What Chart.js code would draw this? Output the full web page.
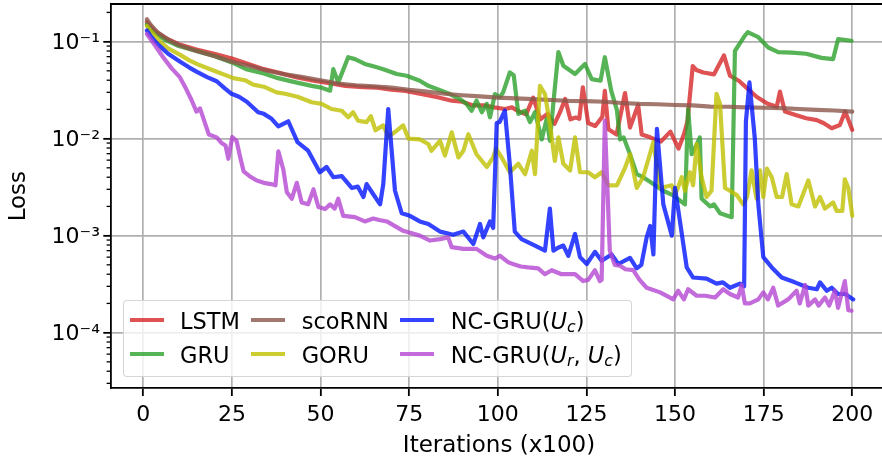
<!DOCTYPE html>
<html><head><meta charset="utf-8">
<script src="https://cdn.jsdelivr.net/npm/chart.js@4.4.1/dist/chart.umd.min.js"></script>
<style>
html,body{margin:0;padding:0;background:#fff;overflow:hidden}
#wrap{position:relative;width:882px;height:462px;overflow:hidden;background:#fff}
#c{position:absolute;left:0;top:0}
.legbox{position:absolute;left:123px;top:300px;width:509px;height:77px;box-sizing:border-box;border:1.3px solid rgba(204,204,204,0.8);border-radius:4px;background:rgba(255,255,255,0.8)}
.h{position:absolute;height:4.2px;width:34px}
.t{position:absolute;font-family:'DejaVu Sans';font-size:22.5px;line-height:22.5px;white-space:nowrap;color:#000}
.m{font-style:italic}
.s{font-style:italic;font-size:0.7em;line-height:0;vertical-align:-0.22em}
</style></head><body>
<div id="wrap"><canvas id="c" width="887" height="462"></canvas></div>
<script>
// ---------------- data (x in hundreds of iterations, loss) ----------------
const xTicks = [0, 25, 50, 75, 100, 125, 150, 175, 200];
const yTicks = [1e-4, 1e-3, 1e-2, 1e-1];
const yTickLabels = ['10\u207B\u2074', '10\u207B\u00B3', '10\u207B\u00B2', '10\u207B\u00B9'];
const seriesNames = ['LSTM', 'GRU', 'scoRNN', 'GORU', 'NC-GRU(U_c)', 'NC-GRU(U_r, U_c)'];

const lstm = [[1,0.16],[3,0.13],[6,0.11],[10,0.094],[15,0.083],[20,0.075],[25,0.067],[29,0.06],[34,0.052],[38,0.048],[43,0.043],[48,0.0395],[53,0.037],[57,0.035],[62,0.034],[66,0.0335],[70,0.032],[74,0.031],[78,0.029],[83,0.0267],[87,0.0246],[90,0.024],[93,0.022],[96,0.022],[99,0.021],[102,0.0202],[104,0.021],[106,0.019],[108,0.0178],[110,0.0265],[112,0.0158],[114,0.018],[116,0.0142],[117.5,0.0185],[119,0.0256],[120.5,0.0158],[122,0.0165],[123,0.016],[124,0.0338],[125.5,0.0145],[127.5,0.0135],[129.5,0.0168],[130.2,0.031],[131.2,0.0125],[133.5,0.011],[135.9,0.0295],[137.3,0.013],[139.6,0.0222],[140.6,0.011],[143,0.0103],[146,0.0093],[148.7,0.0118],[151,0.0079],[152.5,0.011],[153.5,0.015],[155,0.056],[156,0.051],[158,0.048],[161,0.046],[163.8,0.072],[165.5,0.0445],[168,0.0395],[170,0.034],[173,0.027],[176,0.023],[178.7,0.0213],[179.6,0.0305],[181,0.019],[184,0.0175],[187,0.0162],[190,0.0155],[192,0.0144],[194.2,0.0128],[196.5,0.0138],[198,0.019],[200,0.0123]];

const gru = [[1,0.15],[3,0.125],[6,0.105],[10,0.09],[15,0.08],[20,0.071],[25,0.061],[29,0.052],[34,0.047],[38,0.042],[43,0.038],[47.5,0.035],[50.3,0.0335],[52.7,0.0312],[53.6,0.052],[55,0.038],[57.8,0.069],[59.7,0.066],[62.5,0.0588],[65.4,0.055],[67.7,0.052],[71.5,0.0463],[74.3,0.0445],[78,0.0395],[80.4,0.035],[82.8,0.0325],[86.5,0.0288],[89.3,0.0256],[91.2,0.0228],[92.6,0.0194],[94,0.0246],[95.5,0.0187],[96.9,0.0228],[97.8,0.0166],[99.2,0.0288],[100.6,0.0267],[101.5,0.03],[103.4,0.048],[104.5,0.045],[105.8,0.018],[107.7,0.0194],[109.1,0.0148],[110.5,0.0187],[112.4,0.0098],[113.8,0.016],[114.7,0.0095],[115.7,0.0237],[117.1,0.078],[118.5,0.0564],[121.8,0.0463],[124.6,0.0588],[126.5,0.041],[129,0.0395],[130.2,0.069],[132,0.0312],[133.6,0.0197],[134.5,0.0098],[135.5,0.0103],[137.3,0.0069],[139.2,0.0043],[141,0.004],[143.9,0.0034],[146.7,0.0029],[149.5,0.0026],[152.8,0.0021],[153.7,0.0202],[154.7,0.0069],[156,0.0085],[157,0.0103],[157.5,0.0024],[159.9,0.002],[161,0.0021],[162.7,0.0017],[166,0.00155],[166.9,0.08],[169.7,0.115],[170.5,0.125],[173.5,0.111],[176.3,0.087],[179.1,0.078],[183,0.077],[187,0.075],[191.3,0.068],[194.6,0.066],[196,0.106],[199.8,0.102]];

const scornn = [[1,0.17],[2,0.15],[4,0.125],[7,0.105],[10,0.092],[15,0.08],[20,0.071],[25,0.062],[30,0.056],[35,0.05],[40,0.046],[45,0.043],[50,0.04],[55,0.037],[60,0.0355],[65,0.0345],[70,0.0335],[75,0.0318],[80,0.0305],[85,0.029],[90,0.028],[95,0.0272],[100,0.0265],[105,0.026],[110,0.0255],[115,0.025],[120,0.0245],[125,0.0243],[130,0.024],[135,0.0233],[140,0.0228],[145,0.0226],[150,0.0222],[155,0.022],[160,0.0214],[165,0.0213],[170,0.021],[175,0.0208],[180,0.0206],[185,0.0202],[190,0.0198],[195,0.0195],[200,0.019]];

const goru = [[1,0.145],[2,0.13],[4.7,0.1],[7,0.085],[10.4,0.073],[13,0.064],[16,0.057],[20.7,0.049],[25.4,0.042],[28.7,0.04],[31,0.036],[34.3,0.034],[37.6,0.03],[40,0.029],[43.5,0.027],[47.5,0.0237],[50.3,0.0228],[53.1,0.0202],[56,0.0194],[57.8,0.0166],[59.2,0.0187],[60.6,0.0153],[63,0.0148],[64.2,0.017],[65.5,0.0122],[67.7,0.0137],[69.1,0.0104],[71.5,0.0121],[73.3,0.0137],[74.8,0.01],[78,0.0098],[80.4,0.0088],[81.3,0.0075],[83.7,0.0095],[85.1,0.0067],[87,0.0116],[88.9,0.0064],[90.3,0.0075],[91.7,0.0111],[94,0.0069],[96.9,0.0051],[98.7,0.0064],[99.5,0.0079],[101.1,0.0064],[103.4,0.0045],[105.8,0.0055],[107.7,0.0043],[109.6,0.0075],[110.5,0.0043],[111.9,0.035],[113.3,0.029],[114.7,0.0141],[116.1,0.0059],[117.1,0.0103],[118.5,0.0055],[120.4,0.0047],[121.8,0.0103],[123.2,0.0045],[125.5,0.0045],[127.4,0.004],[129.3,0.0045],[131.2,0.0033],[133.6,0.0033],[135.9,0.005],[137.3,0.0069],[139.2,0.0031],[141,0.004],[143.9,0.0092],[145.8,0.0031],[149.1,0.0033],[150,0.0026],[151.9,0.004],[152.8,0.0029],[154.2,0.0045],[155.1,0.0033],[156.1,0.0088],[157.5,0.004],[158.9,0.0025],[160.3,0.0029],[161.7,0.029],[162.7,0.0228],[164.1,0.0031],[165.5,0.0029],[167.5,0.0026],[169.2,0.0021],[170.3,0.0025],[171.6,0.0047],[173,0.0024],[174,0.0047],[174.9,0.0025],[175.9,0.0049],[177.3,0.004],[178.7,0.0025],[180.2,0.0025],[181.5,0.0043],[182.9,0.0021],[184.8,0.002],[187.6,0.0037],[189.5,0.002],[190.9,0.0025],[192.3,0.0019],[194.6,0.0022],[195.6,0.0018],[197.2,0.0018],[197.9,0.0038],[198.9,0.0031],[200,0.0016]];

const ncgruUc = [[1,0.13],[2,0.115],[3.8,0.096],[7,0.075],[10.4,0.062],[13,0.054],[15,0.049],[18,0.043],[20.7,0.039],[23,0.033],[24.9,0.029],[27,0.027],[29.2,0.024],[32.4,0.0187],[34,0.018],[36.2,0.016],[38.1,0.0134],[40.9,0.0151],[43.5,0.0092],[46.5,0.0075],[49.8,0.0045],[51.7,0.0051],[53.6,0.004],[56,0.0041],[58.8,0.0031],[60.5,0.0032],[62.1,0.0025],[63,0.0034],[64.5,0.0028],[66.8,0.0021],[67.7,0.0034],[69.1,0.0202],[71,0.0029],[72.9,0.0017],[75.2,0.0016],[78,0.0014],[80.4,0.00132],[83.7,0.0011],[87.4,0.00102],[90.3,0.0011],[93.1,0.00082],[95,0.00132],[95.9,0.00096],[97.8,0.0014],[98.7,0.0012],[99.7,0.0145],[100.5,0.0148],[102,0.0194],[103.4,0.0054],[104.8,0.0011],[106.7,0.00092],[110.5,0.00079],[113.3,0.0007],[114.7,0.0019],[115.7,0.0007],[117,0.00075],[118.5,0.00079],[119.9,0.00062],[121.8,0.00104],[123.2,0.0006],[125.1,0.00051],[127.4,0.00068],[129.3,0.00055],[132.1,0.00064],[134,0.00051],[137.3,0.00059],[139.2,0.00046],[140.5,0.0005],[142,0.00096],[143,0.00126],[143.9,0.00064],[144.9,0.0126],[146.7,0.0021],[149.1,0.001],[150,0.0031],[151.4,0.0014],[153.3,0.00047],[155.1,0.00037],[158.9,0.00036],[161.7,0.00032],[163.5,0.00033],[165.5,0.00029],[168.3,0.00032],[169.5,0.0003],[170,0.015],[171,0.038],[172.5,0.0101],[173.5,0.0021],[174.9,0.0006],[177.3,0.00047],[180.1,0.00037],[183.8,0.00033],[187.6,0.00029],[190,0.00028],[190.9,0.00033],[192.8,0.00027],[194.2,0.00029],[196,0.00025],[198,0.00025],[200.3,0.00022]];

const ncgruUrUc = [[1,0.12],[3,0.095],[5.6,0.069],[8,0.053],[10.3,0.043],[12,0.033],[13.6,0.025],[15,0.019],[16,0.0205],[17,0.016],[18.5,0.011],[20.7,0.0103],[22.1,0.009],[23.2,0.0085],[24,0.0062],[25.1,0.0104],[26.3,0.0095],[27.3,0.0065],[28.3,0.0046],[30,0.0041],[32,0.0037],[34,0.0035],[36,0.0034],[37.3,0.0033],[38.1,0.0074],[39.5,0.0048],[40.5,0.0028],[41.9,0.0024],[43.3,0.0035],[44.7,0.0022],[46.5,0.0021],[48,0.003],[49.4,0.00197],[51.3,0.00188],[52.7,0.0021],[54,0.0019],[55,0.0024],[56.4,0.0016],[59.7,0.00155],[62.5,0.0014],[64.9,0.0015],[66.5,0.00145],[68.7,0.0014],[73.3,0.00112],[78,0.001],[80.9,0.00089],[83.7,0.00092],[86,0.00096],[87,0.00076],[90.3,0.00073],[94,0.00073],[96.9,0.00062],[99.2,0.00058],[100.6,0.00062],[103,0.00053],[104.9,0.0005],[106.5,0.00048],[108.6,0.00047],[111.4,0.00046],[113.3,0.0004],[115.2,0.00044],[118,0.0004],[121.8,0.0004],[124.1,0.00034],[125.5,0.00035],[127.4,0.00044],[128.8,0.00034],[129.3,0.00035],[130.2,0.0153],[131.6,0.0007],[133,0.0005],[134.5,0.00049],[136,0.00045],[138.2,0.00044],[140,0.00035],[142,0.00029],[145.8,0.00026],[149.5,0.00022],[150.9,0.00027],[152.5,0.00022],[153.7,0.00028],[156.1,0.00024],[158.5,0.00024],[161.3,0.00023],[163.6,0.00028],[165.5,0.00025],[167.8,0.00023],[168.8,0.00031],[169.7,0.0002],[171.1,0.0002],[173.5,0.00022],[174.9,0.00026],[176.2,0.00022],[177.7,0.00029],[179.1,0.00019],[181.9,0.00022],[184.3,0.00027],[185.2,0.0002],[186.7,0.00031],[187.6,0.00019],[189.5,0.00022],[190.5,0.00019],[192.3,0.00023],[193.5,0.00019],[195.1,0.00027],[196,0.00018],[197.9,0.00034],[198.9,0.00017],[199.8,0.000168]];

// ---------------- styling ----------------
const seriesColors = ['rgba(214,39,40,0.8)','rgba(44,160,44,0.8)','rgba(140,86,75,0.8)','rgba(191,191,0,0.8)','rgba(0,20,255,0.8)','rgba(180,70,210,0.8)'];
const seriesData = [lstm, gru, scornn, goru, ncgruUc, ncgruUrUc];
const FONT = "'DejaVu Sans'";

// Chart.js draws dataset index 0 on top; matplotlib draws later series on top -> reverse
const datasets = seriesData.map((pts, i) => ({
  label: seriesNames[i],
  data: pts.map(p => ({x: p[0], y: p[1]})),
  borderColor: seriesColors[i],
  backgroundColor: seriesColors[i],
  borderWidth: 4.2,
  pointRadius: 0,
  tension: 0,
  fill: false,
  borderJoinStyle: 'round',
  borderCapStyle: 'round'
})).reverse();

const extras = {
  id: 'extras',
  afterDraw(chart) {
    const {ctx, chartArea} = chart;
    const y = chart.scales.y;
    ctx.save();
    ctx.strokeStyle = '#000';
    ctx.lineWidth = 1.3;
    for (let e = -6; e <= 1; e++) {
      for (let m = 2; m <= 9; m++) {
        const v = m * Math.pow(10, e);
        if (v < y.min || v > y.max) continue;
        const py = y.getPixelForValue(v);
        ctx.beginPath();
        ctx.moveTo(chartArea.left, py);
        ctx.lineTo(chartArea.left - 4.4, py);
        ctx.stroke();
      }
    }
    ctx.lineWidth = 1.8;
    ctx.beginPath();
    ctx.moveTo(chartArea.left - 0.9, chartArea.top);
    ctx.lineTo(chartArea.right, chartArea.top);
    ctx.stroke();
    ctx.restore();
  }
};

const gridOpts = {color: '#b0b0b0', lineWidth: 1.7, tickColor: '#000', tickWidth: 1.8, tickLength: 7.7};

new Chart(document.getElementById('c'), {
  type: 'line',
  data: {datasets},
  options: {
    responsive: false,
    animation: false,
    devicePixelRatio: 1,
    layout: {padding: {top: 4, left: 0, right: 0, bottom: 0}},
    plugins: {legend: {display: false}, tooltip: {enabled: false}},
    scales: {
      x: {
        type: 'linear', min: -9.11, max: 209.8,
        afterBuildTicks: s => { s.ticks = xTicks.map(v => ({value: v})); },
        afterFit: s => { s.height = 73.7; s.paddingLeft = 0; s.paddingRight = 0; },
        grid: gridOpts,
        border: {color: '#000', width: 1.8},
        ticks: {color: '#000', font: {family: FONT, size: 22}, padding: 5.9, maxRotation: 0, autoSkip: false,
                callback: (v) => String(v)},
        title: {display: true, text: 'Iterations (x100)', color: '#000', font: {family: FONT, size: 23}, padding: {top: 0, bottom: 2.2}}
      },
      y: {
        type: 'logarithmic', min: 2.667e-5, max: 0.2442,
        afterBuildTicks: s => { s.ticks = yTicks.map(v => ({value: v})); },
        afterFit: s => { s.width = 111; s.paddingTop = 0; s.paddingBottom = 0; },
        grid: gridOpts,
        border: {color: '#000', width: 1.8},
        ticks: {color: '#000', font: {family: FONT, size: 22}, padding: 3.3, labelOffset: 1.4, autoSkip: false,
                callback: (v, i) => yTickLabels[i]},
        title: {display: true, text: 'Loss', color: '#000', font: {family: FONT, size: 23}, padding: {top: 5.2, bottom: 0}}
      }
    }
  },
  plugins: [extras]
});

// ---------------- legend (HTML, matplotlib-style 3 columns) ----------------
function mathLabel(name) {
  return name.replace(/U_([a-z])/g, '<span class="m">U</span><span class="s">$1</span>');
}
const wrap = document.getElementById('wrap');
const box = document.createElement('div');
box.className = 'legbox';
wrap.appendChild(box);
const colHandleX = [130, 250.7, 400];
const colTextX = [180, 301.7, 450.7];
const rowHandleY = [317.9, 352.2];
const rowTextTop = [310.3, 343.7];
seriesNames.forEach((name, i) => {
  const col = Math.floor(i / 2), row = i % 2;
  const h = document.createElement('div');
  h.className = 'h';
  h.style.left = colHandleX[col] + 'px';
  h.style.top = rowHandleY[row] + 'px';
  h.style.background = seriesColors[i];
  wrap.appendChild(h);
  const t = document.createElement('div');
  t.className = 't';
  t.style.left = colTextX[col] + 'px';
  t.style.top = rowTextTop[row] + 'px';
  t.innerHTML = mathLabel(name);
  wrap.appendChild(t);
});
</script>
</body></html>
